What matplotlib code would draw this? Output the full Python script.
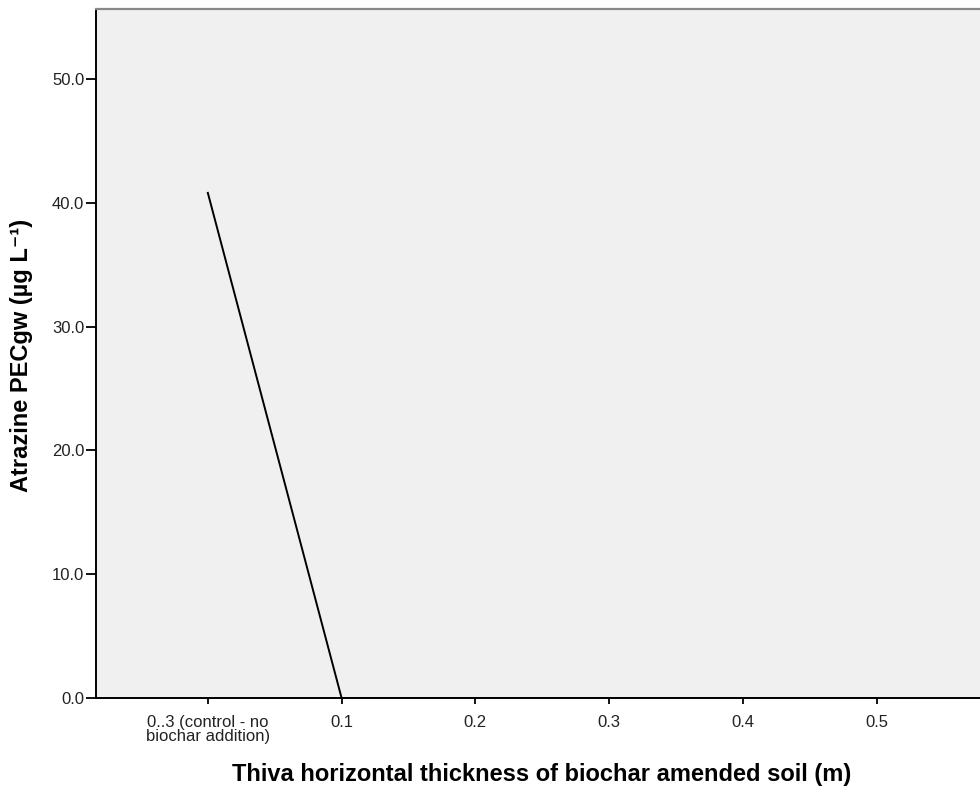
import numpy as np
import matplotlib
matplotlib.use("Agg")
import matplotlib.pyplot as plt

# ================================
# DATA
# ================================
categories = ["0..3 (control - no\nbiochar addition)", "0.1", "0.2", "0.3", "0.4", "0.5"]
pec_gw = [40.8, 0.0, 0.0, 0.0, 0.0, 0.0]
y_ticks = [0.0, 10.0, 20.0, 30.0, 40.0, 50.0]

plt.rcParams["font.family"] = ["Liberation Sans", "DejaVu Sans"]

# ================================
# FIGURE
# ================================
W, H = 980, 791
fig = plt.figure(figsize=(W / 100, H / 100), dpi=100)
ax_w = 985 - 96
ax_h = 698 - 9
ax = fig.add_axes([96 / W, (H - 698) / H, ax_w / W, ax_h / H])
ax.set_facecolor("#f0f0f0")

x = np.arange(len(categories))
ax.plot(x, pec_gw, color="black", linewidth=1.4, zorder=3)

ax.set_xlim(-0.836, 5.81)
ax.set_ylim(0, 55.65)

ax.set_xticks(x)
ax.set_xticklabels(categories, fontsize=12, linespacing=0.9)
ax.set_yticks(y_ticks)
ax.set_yticklabels(["%.1f" % v for v in y_ticks], fontsize=12)
ax.tick_params(axis="x", direction="out", length=4.5, width=1.3, color="black", pad=8,
               labelcolor="#222222")
ax.tick_params(axis="y", direction="out", length=7.5, width=1.3, color="black", pad=1,
               labelcolor="#222222")

ax.spines["left"].set_linewidth(1.4)
ax.spines["bottom"].set_linewidth(1.4)
ax.spines["top"].set_color("#888888")
ax.spines["top"].set_linewidth(1.6)
ax.spines["right"].set_visible(False)

# ================================
# AXIS LABELS
# ================================
ax.set_ylabel("Atrazine PECgw (\u00b5g L\u207b\u00b9)", fontsize=17, fontweight="bold",
              va="center")
ax.yaxis.set_label_coords((22 - 96) / ax_w, (698 - 355) / ax_h)
ax.set_xlabel("Thiva horizontal thickness of biochar amended soil (m)", fontsize=17,
              fontweight="bold", va="center")
ax.xaxis.set_label_coords((542 - 96) / ax_w, (698 - 775) / ax_h)

fig.savefig("out.png", dpi=100)
